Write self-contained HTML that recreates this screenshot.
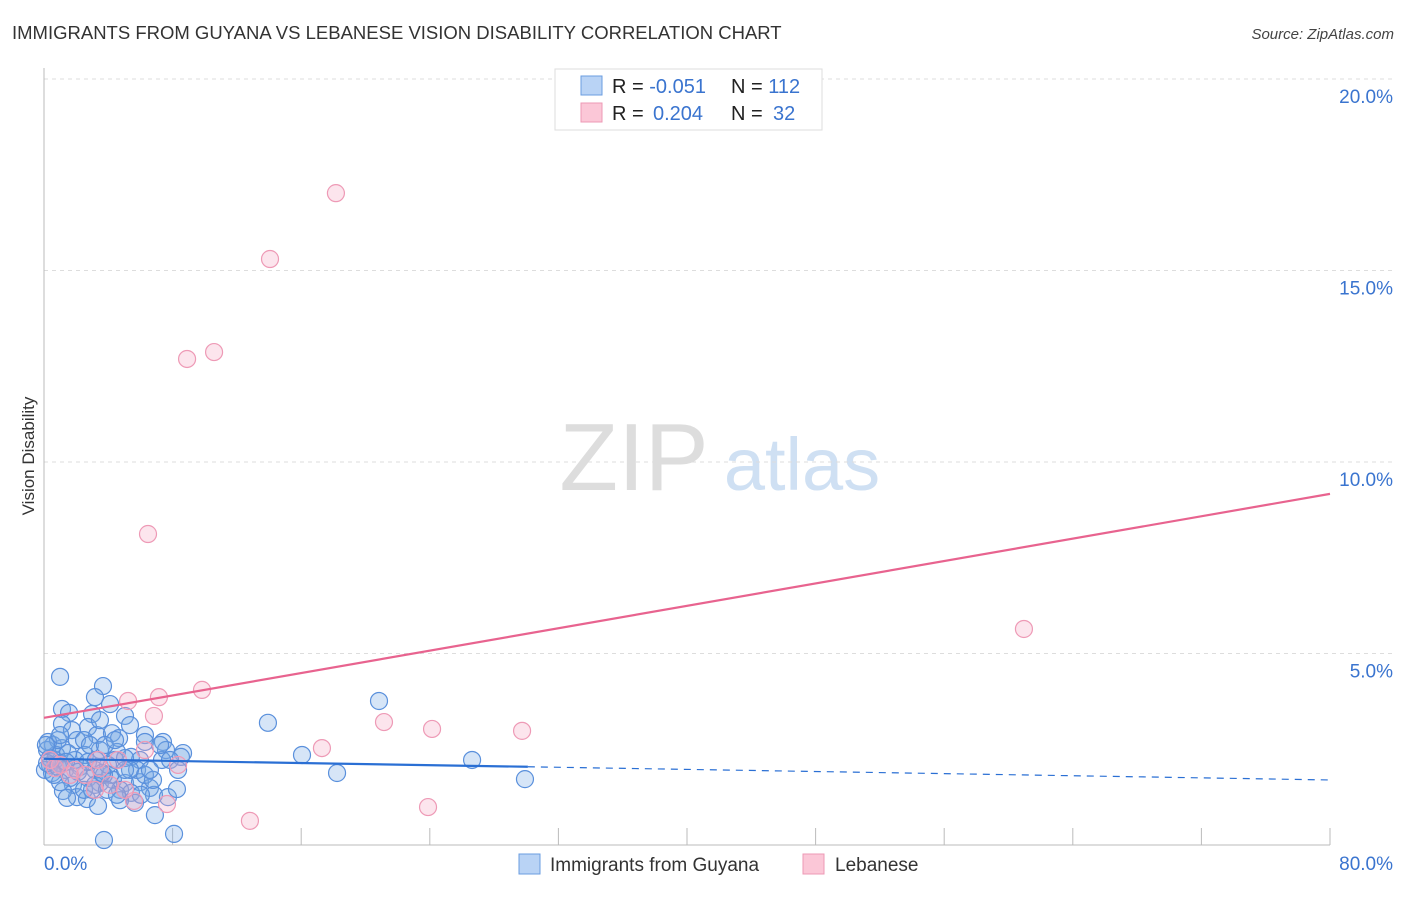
<!DOCTYPE html>
<html><head><meta charset="utf-8"><style>
body{margin:0;background:#fff;font-family:"Liberation Sans",sans-serif}
svg text{font-family:"Liberation Sans",sans-serif}
</style></head><body>
<svg id="chart" width="1406" height="892">
<text x="12" y="39" font-size="18.5" fill="#333">IMMIGRANTS FROM GUYANA VS LEBANESE VISION DISABILITY CORRELATION CHART</text>
<text x="1394" y="39" font-size="15" fill="#444" font-style="italic" text-anchor="end">Source: ZipAtlas.com</text>
<text x="34" y="456" font-size="17" fill="#333" text-anchor="middle" transform="rotate(-90 34 456)">Vision Disability</text>
<g>
<text x="634" y="490" font-size="96" fill="#ddd" font-family="Liberation Serif" text-anchor="middle">ZIP</text>
<text x="802" y="490" font-size="74" fill="#cfe0f3" text-anchor="middle">atlas</text>
</g>
<g id="grid"></g><g id="axes"></g><g id="pts"></g><g id="lines"></g>
<g>
<rect x="555" y="69" width="267" height="61" fill="#fff" stroke="#ddd"/>
<rect x="581" y="76" width="21" height="19" fill="#b9d3f5" stroke="#6a9de0"/>
<rect x="581" y="103" width="21" height="19" fill="#fbc7d7" stroke="#ee98b4"/>
<text x="612" y="93" font-size="20" fill="#222">R = <tspan fill="#3a74cf">-0.051</tspan></text>
<text x="731" y="93" font-size="20" fill="#222">N = <tspan fill="#3a74cf">112</tspan></text>
<text x="612" y="120" font-size="20" fill="#222">R = <tspan x="653" fill="#3a74cf">0.204</tspan></text>
<text x="731" y="120" font-size="20" fill="#222">N = <tspan x="773" fill="#3a74cf">32</tspan></text>
</g>
<g>
<rect x="519" y="854" width="21" height="20" fill="#b9d3f5" stroke="#6a9de0"/>
<text x="550" y="871" font-size="19" fill="#333">Immigrants from Guyana</text>
<rect x="803" y="854" width="21" height="20" fill="#fbc7d7" stroke="#ee98b4"/>
<text x="835" y="871" font-size="19" fill="#333">Lebanese</text>
</g>
</svg>
<script>
const blueX=[1.0,3.67,3.17,1.12,1.56,2.99,5.04,4.11,1.12,2.74,1.74,2.05,3.3,4.23,0.56,1.12,2.49,4.67,3.48,4.54,5.41,6.28,6.28,7.4,7.59,8.65,8.52,7.34,5.97,0.68,0.37,1.31,2.24,3.17,4.11,2.74,3.48,4.29,5.04,5.97,6.59,1.8,2.05,2.67,3.36,4.73,5.41,5.66,6.84,7.71,8.27,6.9,3.73,8.09,13.93,16.05,18.23,20.84,26.63,29.92,0.19,0.37,0.75,1.0,0.06,0.5,1.62,3.73,3.17,2.49,1.18,4.42,5.04,3.98,5.79,6.28,6.78,3.48,5.35,2.55,1.93,1.49,0.87,0.25,1.0,2.86,3.79,4.42,7.22,6.59,4.73,5.35,6.03,1.43,0.62,0.19,0.87,1.37,2.12,2.74,3.23,3.61,7.84,8.34,0.12,2.99,3.92,4.54,5.04,1.0];
const blueY=[4.39,4.15,3.86,3.55,3.45,3.42,3.37,3.68,3.16,3.08,3.0,2.74,2.87,2.92,2.61,2.53,2.74,2.79,2.48,2.43,2.30,2.87,2.69,2.69,2.48,2.4,2.3,2.22,2.22,2.22,2.09,1.96,2.04,1.96,1.83,1.75,1.62,1.70,1.62,1.64,1.49,1.57,1.25,1.2,1.02,1.44,1.36,1.1,1.31,1.25,1.46,0.78,0.13,0.29,3.19,2.35,1.88,3.76,2.22,1.72,2.48,2.27,2.35,2.14,1.96,1.88,1.75,1.83,1.57,1.44,1.41,2.22,2.27,2.09,1.96,1.83,1.7,3.26,3.13,2.35,2.22,2.4,2.74,2.69,1.64,2.61,2.61,2.74,2.61,1.96,1.17,1.96,1.31,1.23,1.83,2.14,2.04,2.17,1.91,2.17,2.22,1.88,2.22,1.96,2.61,1.44,1.44,1.31,1.96,2.87];
const pinkX=[18.16,14.06,8.9,10.58,6.47,60.96,9.83,7.15,5.23,6.84,21.15,24.14,29.74,17.29,12.81,23.89,7.65,5.6,8.34,6.28,4.6,3.36,1.93,1.0,0.37,0.68,2.55,4.11,5.04,3.17,1.62,3.48];
const pinkY=[17.02,15.3,12.69,12.87,8.12,5.64,4.05,3.86,3.76,3.37,3.21,3.03,2.98,2.53,0.63,0.99,1.07,1.15,2.09,2.48,2.22,2.22,1.96,2.09,2.22,2.01,1.83,1.57,1.44,1.44,1.83,2.01];
const yTicks=[5,10,15,20];
const xTickLabels=["0.0%","80.0%"];
const blueTrend=[2.25,-0.0069];
const blueSolidEnd=30.1;
const pinkTrend=[3.32,0.0731];
const NS='http://www.w3.org/2000/svg';
const X0=44,X1=1330,Y0=845,Y20=79;
const sx=v=>X0+(X1-X0)*v/80;
const sy=v=>Y0-(Y0-Y20)*v/20;
function mk(tag,attrs,parent){const e=document.createElementNS(NS,tag);for(const k in attrs)e.setAttribute(k,attrs[k]);document.getElementById(parent).appendChild(e);return e;}
yTicks.forEach(t=>{
 const l=mk('line',{x1:X0,x2:1395,y1:sy(t),y2:sy(t),stroke:'#ddd','stroke-dasharray':'4,4'},'grid');
 
 
 const tx=mk('text',{x:1393,y:sy(t)+24,'font-size':19,fill:'#3a74cf','text-anchor':'end'},'grid');
 tx.textContent=t.toFixed(1)+'%';
 
 
});
mk('line',{x1:X0,x2:X0,y1:68,y2:Y0,stroke:'#bbb'},'axes');
mk('line',{x1:X0,x2:X1,y1:Y0,y2:Y0,stroke:'#bbb'},'axes');
for(let i=1;i<=10;i++){mk('line',{x1:sx(i*8),x2:sx(i*8),y1:828,y2:Y0,stroke:'#bbb'},'axes');}
const xl0=mk('text',{x:44,y:870,'font-size':19,fill:'#3a74cf'},'axes');xl0.textContent=xTickLabels[0];


const xl1=mk('text',{x:1393,y:870,'font-size':19,fill:'#3a74cf','text-anchor':'end'},'axes');xl1.textContent=xTickLabels[1];


blueX.forEach((x,i)=>{const c=mk('circle',{cx:sx(x),cy:sy(blueY[i]),r:8.5,fill:'rgba(120,170,230,0.3)',stroke:'#5a90dc','stroke-width':1.2},'pts');
 
 });
pinkX.forEach((x,i)=>{const c=mk('circle',{cx:sx(x),cy:sy(pinkY[i]),r:8.5,fill:'rgba(245,170,195,0.3)',stroke:'#ee9ab6','stroke-width':1.2},'pts');
 
 });
const bl=v=>blueTrend[0]+blueTrend[1]*v, pl=v=>pinkTrend[0]+pinkTrend[1]*v;
const t1=mk('line',{x1:sx(0),y1:sy(bl(0)),x2:sx(blueSolidEnd),y2:sy(bl(blueSolidEnd)),stroke:'#2a6fd4','stroke-width':2.2},'lines');


const t2=mk('line',{x1:sx(blueSolidEnd),y1:sy(bl(blueSolidEnd)),x2:sx(80),y2:sy(bl(80)),stroke:'#2a6fd4','stroke-width':1.2,'stroke-dasharray':'7,6'},'lines');


const t3=mk('line',{x1:sx(0),y1:sy(pl(0)),x2:sx(80),y2:sy(pl(80)),stroke:'#e8638f','stroke-width':2.2},'lines');


</script>
</body></html>
